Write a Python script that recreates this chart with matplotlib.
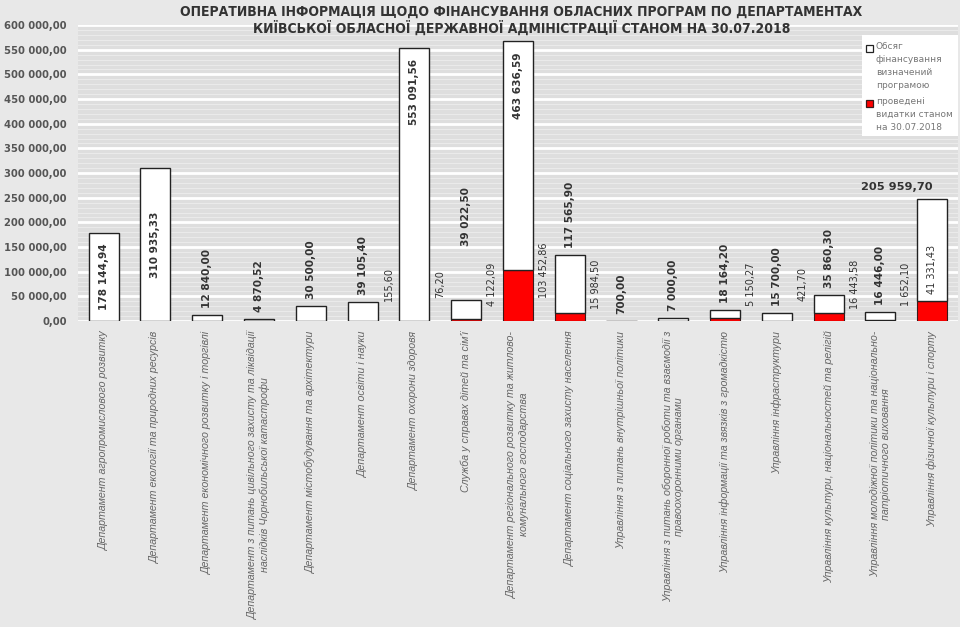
import numpy as np
import matplotlib
matplotlib.use('Agg')
import matplotlib.pyplot as plt
from matplotlib.patches import Rectangle

categories = [
    'Департамент агропромислового розвитку',
    'Департамент екології та природних ресурсів',
    'Департамент економічного розвитку і торгівлі',
    'Департамент з питань цивільного захисту та ліквідації\nнаслідків Чорнобильської катастрофи',
    'Департамент містобудування та архітектури',
    'Департамент освіти і науки',
    'Департамент охорони здоровя',
    "Служба у справах дітей та сім'ї",
    'Департамент регіонального розвитку та житлово-\nкомунального господарства',
    'Департамент соціального захисту населення',
    'Управління з питань внутрішньої політики',
    'Управління з питань оборонної роботи та взаємодії з\nправоохоронними органами',
    'Управління інформації та звязків з громадкістю',
    'Управління інфраструктури',
    'Управління культури, національностей та релігій',
    'Управління молодіжної політики та національно-\nпатріотичного виховання',
    'Управління фізичної культури і спорту',
]
planned = [178144.94, 310935.33, 12840.00, 4870.52, 30500.00, 39105.40, 553091.56,
           39022.50, 463636.59, 117565.90, 700.00, 7000.00, 18164.20, 15700.00,
           35860.30, 16446.00, 205959.70]
spent = [np.nan, np.nan, np.nan, np.nan, np.nan, 155.60, 76.20, 4122.09, 103452.86,
         15984.50, np.nan, np.nan, 5150.27, 421.70, 16443.58, 1652.10, 41331.43]
title = ('ОПЕРАТИВНА ІНФОРМАЦІЯ ЩОДО ФІНАНСУВАННЯ ОБЛАСНИХ ПРОГРАМ ПО ДЕПАРТАМЕНТАХ\n'
         'КИЇВСЬКОЇ ОБЛАСНОЇ ДЕРЖАВНОЇ АДМІНІСТРАЦІЇ СТАНОМ НА 30.07.2018')
legend_labels = ['Обсяг\nфінансування\nвизначений\nпрограмою',
                 'проведені\nвидатки станом\nна 30.07.2018']


def fmt(v):
    return f'{v:,.2f}'.replace(',', ' ').replace('.', ',')


W, H = 960, 627
fig = plt.figure(figsize=(9.6, 6.27), dpi=100, facecolor='#e8e8e8')
ax = fig.add_axes([0.081, 0.488, 0.917, 0.472])
ax.set_facecolor('#dedede')

x = np.arange(len(categories))
red = np.nan_to_num(np.array(spent))
ax.bar(x, red, width=0.58, color='#ff0000', edgecolor='#3a1a1a', linewidth=0.8, zorder=3)
ax.bar(x, planned, width=0.58, bottom=red, color='white', edgecolor='#222222',
       linewidth=1.0, zorder=3)

ax.set_xlim(-0.5, len(categories) - 0.5)
ax.set_ylim(0, 600000)
ax.set_yticks(np.arange(0, 600001, 50000))
ax.set_yticklabels([fmt(v) for v in np.arange(0, 600001, 50000)],
                   fontsize=7.2, fontweight='bold', color='#555555')
ax.set_yticks(np.arange(0, 600001, 10000), minor=True)
ax.grid(axis='y', which='major', color='white', linewidth=2.0, zorder=0)
ax.grid(axis='y', which='minor', color='#eaeaea', linewidth=0.8, zorder=0)
ax.tick_params(axis='y', which='both', length=0, pad=8)
ax.set_xticks(x)
ax.set_xticklabels(categories, rotation=90, fontsize=7.7, style='italic', color='#666666',
                   family='Liberation Sans', ha='center', va='top', multialignment='center')
ax.tick_params(axis='x', length=0, pad=7)
for s in ax.spines.values():
    s.set_visible(False)

# label placement per bar
inside_center = [0, 1]
inside_top = [6, 8]
horizontal_above = [16]
extra_pad = {7: 34}

for i in x:
    top = red[i] + planned[i]
    txt = fmt(planned[i])
    if i in inside_center:
        ax.text(i, top / 2, txt, rotation=90, ha='center', va='center', fontsize=7.6,
                fontweight='bold', color='#333333', zorder=4)
    elif i in inside_top:
        ax.annotate(txt, (i, top), xytext=(0, -8), textcoords='offset points', rotation=90,
                    ha='center', va='top', fontsize=7.6, fontweight='bold', color='#333333',
                    zorder=4)
    elif i in horizontal_above:
        ax.annotate(txt, (i, top), xytext=(0, 5), textcoords='offset points',
                    ha='right', va='bottom', fontsize=8.2, fontweight='bold',
                    color='#333333', zorder=4)
    else:
        ax.annotate(txt, (i, top), xytext=(0, 5 + extra_pad.get(i, 0)),
                    textcoords='offset points', rotation=90, ha='center', va='bottom',
                    fontsize=7.6, fontweight='bold', color='#333333', zorder=4)

    if not np.isnan(spent[i]):
        if i in horizontal_above:
            ax.annotate(fmt(spent[i]), (i, red[i]), xytext=(0, 5), textcoords='offset points',
                        rotation=90, ha='center', va='bottom', fontsize=7,
                        color='#333333', zorder=4)
        else:
            ax.text(i + 0.5, max(red[i], 75000), fmt(spent[i]), rotation=90, ha='center',
                    va='center', fontsize=7, color='#333333', zorder=4)

fig.text(0.543, 0.993, title, ha='center', va='top', fontsize=10, fontweight='bold',
         fontstretch='condensed', color='#333333', linespacing=1.15)

# legend drawn by hand so the markers sit on the first text line
fig.patches.append(Rectangle((862 / W, 1 - 136 / H), 96 / W, 101 / H,
                             transform=fig.transFigure, facecolor='white',
                             edgecolor='none', zorder=5))
legend_rows = [(44, 'white', '#222222'), (99, '#ff0000', '#3a1a1a')]
for (ytop, fc, ec), lab in zip(legend_rows, legend_labels):
    fig.patches.append(Rectangle((866 / W, 1 - (ytop + 8) / H), 7 / W, 7 / H,
                                 transform=fig.transFigure, facecolor=fc, edgecolor=ec,
                                 linewidth=0.9, zorder=6))
    fig.text(876 / W, 1 - (ytop - 2) / H, lab, ha='left', va='top', fontsize=6.5,
             color='#777777', linespacing=1.55, zorder=6)

fig.savefig('out.png', dpi=100, facecolor=fig.get_facecolor())
